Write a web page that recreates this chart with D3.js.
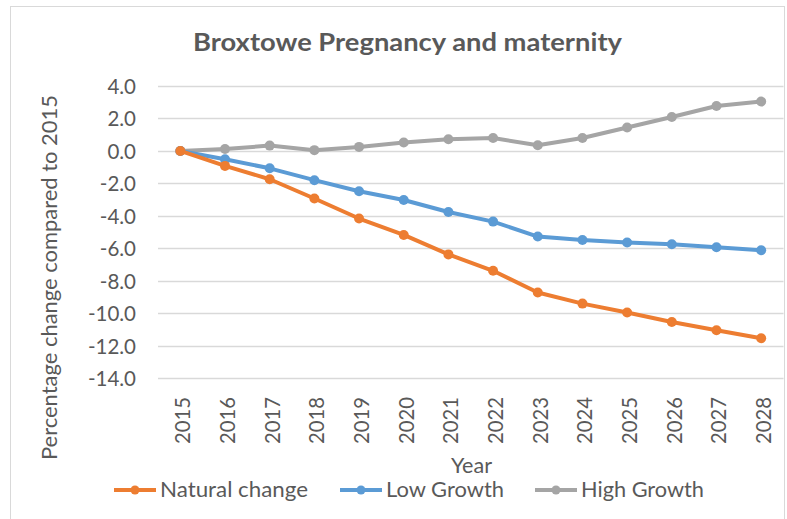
<!DOCTYPE html>
<html><head><meta charset="utf-8">
<script src="https://cdn.jsdelivr.net/npm/d3@7"></script>
<style>body{margin:0;background:#fff}svg{display:block}text{font-family:Lato,"Open Sans",sans-serif}</style>
</head><body><svg id="c" width="787" height="519"></svg>
<script>
const years = ["2015","2016","2017","2018","2019","2020","2021","2022","2023","2024","2025","2026","2027","2028"];
const naturalChange = [0.0,-0.92,-1.74,-2.93,-4.16,-5.17,-6.37,-7.38,-8.72,-9.40,-9.95,-10.53,-11.04,-11.53];
const lowGrowth = [0.0,-0.51,-1.07,-1.80,-2.48,-3.02,-3.76,-4.35,-5.27,-5.48,-5.64,-5.75,-5.93,-6.11];
const highGrowth = [0.0,0.12,0.33,0.05,0.25,0.52,0.72,0.80,0.35,0.80,1.44,2.09,2.77,3.04];
const yTicks = [4,2,0,-2,-4,-6,-8,-10,-12,-14];
const seriesNames = ["Natural change","Low Growth","High Growth"];
const colors = ["#ED7D31","#5B9BD5","#A5A5A5"];
const title = "Broxtowe Pregnancy and  maternity";
const yTitle = "Percentage change compared  to 2015";
const xTitle = "Year";

const svg = d3.select("#c");
svg.append("rect").attr("x",10.5).attr("y",6.5).attr("width",774).attr("height",520).attr("fill","#fff").attr("stroke","#D9D9D9");

const x = d3.scaleBand().domain(years).range([158,783.5]);
const y = d3.scaleLinear().domain([-14,4]).range([378.3,86]);
const textCol = "#595959";
const fmt = d => d3.format(".1f")(d).replace("\u2212","-");

// gridlines
svg.append("g").selectAll("line").data(yTicks).join("line")
  .attr("x1",158).attr("x2",783.5).attr("y1",d=>Math.round(y(d))+0.5).attr("y2",d=>Math.round(y(d))+0.5)
  .attr("stroke","#D9D9D9").attr("stroke-width",1.3);

// y axis
const ya = svg.append("g").attr("transform","translate(136,0)")
  .call(d3.axisLeft(y).tickValues(yTicks).tickFormat(fmt).tickSize(0).tickPadding(0));
ya.select(".domain").remove();
ya.selectAll("text").attr("fill",textCol).style("font-size","20.5px").style("font-family","Lato, sans-serif").attr("dy","0.36em");

// x axis
const xa = svg.append("g").attr("transform","translate(2,397)")
  .call(d3.axisBottom(x).tickSize(0).tickPadding(0));
xa.select(".domain").remove();
xa.selectAll("text").attr("fill",textCol).style("font-size","22px").style("font-family","Lato, sans-serif")
  .attr("transform","rotate(-90)").attr("text-anchor","end").attr("x",0).attr("y",0).attr("dx",0).attr("dy","0.36em")
  .attr("textLength",47).attr("lengthAdjust","spacingAndGlyphs");

// titles
svg.append("text").attr("x",407.5).attr("y",51).attr("text-anchor","middle").attr("fill",textCol)
  .style("font-size","24px").style("font-weight","bold").attr("textLength",429).attr("lengthAdjust","spacingAndGlyphs").text(title);
svg.append("text").attr("transform","translate(57,277.5) rotate(-90)").attr("text-anchor","middle").attr("fill",textCol)
  .style("font-size","21px").attr("textLength",365).attr("lengthAdjust","spacingAndGlyphs").text(yTitle);
svg.append("text").attr("x",471.5).attr("y",473).attr("text-anchor","middle").attr("fill",textCol)
  .style("font-size","21px").attr("textLength",41).attr("lengthAdjust","spacingAndGlyphs").text(xTitle);

// series
const data = [naturalChange, lowGrowth, highGrowth];
const cx = d => x(d) + x.bandwidth()/2;
const line = d3.line().x((v,i)=>cx(years[i])).y(v=>y(v));
[2,1,0].forEach(k=>{
  const g = svg.append("g");
  g.append("path").datum(data[k]).attr("d",line).attr("fill","none").attr("stroke",colors[k]).attr("stroke-width",4).attr("stroke-linejoin","round");
  g.selectAll("circle").data(data[k]).join("circle").attr("cx",(v,i)=>cx(years[i])).attr("cy",v=>y(v)).attr("r",5).attr("fill",colors[k]);
});

// legend
const legX = [114,340,535];
const legW = [148,118,123];
seriesNames.forEach((n,i)=>{
  const g = svg.append("g").attr("transform",`translate(${legX[i]},490)`);
  g.append("line").attr("x1",0).attr("x2",42).attr("y1",0).attr("y2",0).attr("stroke",colors[i]).attr("stroke-width",4);
  g.append("circle").attr("cx",21).attr("cy",0).attr("r",4.5).attr("fill",colors[i]);
  g.append("text").attr("x",46).attr("y",7).attr("fill",textCol).style("font-size","21px")
    .attr("textLength",legW[i]).attr("lengthAdjust","spacingAndGlyphs").text(n);
});
</script></body></html>
